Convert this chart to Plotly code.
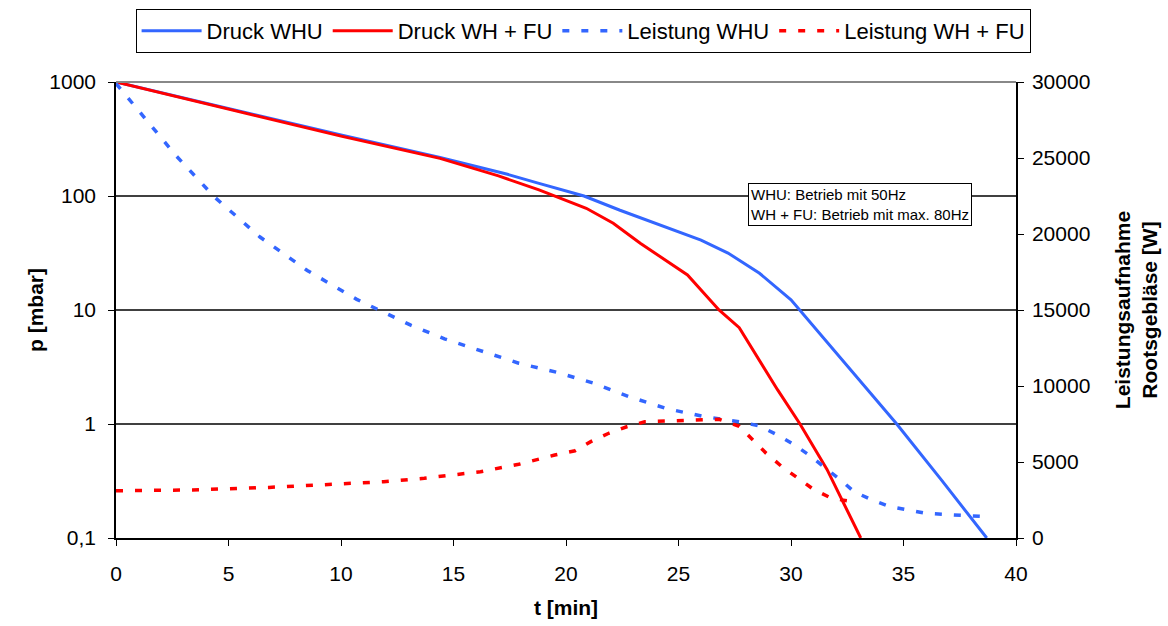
import plotly.graph_objects as go

# ---- data ----
t_druck_whu = [0, 5, 10, 14.4, 17.4, 18.8, 20.8, 22.4, 24.8, 26.0, 27.2, 28.6, 30.0, 32.0, 34.7, 36.7, 38.7]
p_druck_whu = [1000, 586, 343, 218, 155, 129, 100, 75, 50, 41, 31.6, 21, 12.3, 4.2, 1.0, 0.32, 0.1]

t_druck_fu = [0, 5, 10, 14.4, 17.0, 18.8, 20.9, 22.1, 23.3, 25.4, 26.8, 27.7, 28.5, 29.4, 30.4, 31.6, 33.1]
p_druck_fu = [1000, 575, 335, 214, 150, 113, 78, 57.6, 38.5, 20.3, 10, 7.0, 3.9, 2.0, 1.0, 0.40, 0.1]

t_leist_whu = [0, 2.7, 4.4, 6.4, 8.5, 10.7, 13.1, 14.6, 17.9, 19.6, 21.2, 22.8, 24.5, 26.1, 27.7,
               28.6, 29.4, 30.1, 30.8, 31.5, 32.2, 32.8, 33.6, 34.4, 36.0, 38.7]
w_leist_whu = [29900, 25100, 22400, 19800, 17600, 15700, 14000, 13100, 11500, 10900, 10200, 9300, 8500, 8000, 7650,
               7370, 6780, 6180, 5460, 4650, 3820, 3050, 2500, 2060, 1620, 1400]

t_leist_fu = [0, 3.4, 6.8, 9.4, 11.9, 13.7, 16.2, 17.9, 19.5, 20.4, 21.1, 21.9, 22.7, 23.5, 25.2, 26.8,
              27.7, 28.3, 28.9, 29.6, 30.3, 31.0, 31.8, 32.6]
w_leist_fu = [3110, 3160, 3330, 3500, 3700, 3930, 4360, 4850, 5460, 5740, 6340, 6890, 7320, 7650, 7720, 7810,
              7350, 6450, 5570, 4690, 3930, 3200, 2610, 2430]

p_tickvals = [0.1, 1, 10, 100, 1000]
p_ticktext = ["0,1", "1", "10", "100", "1000"]

BLUE = "#3366FF"
RED = "#FF0000"
FONT = "Arial, Liberation Sans, sans-serif"
DASH = "7px,12px"

fig = go.Figure()
fig.add_trace(go.Scatter(x=t_druck_whu, y=p_druck_whu, name="Druck WHU", mode="lines",
                         line=dict(color=BLUE, width=3)))
fig.add_trace(go.Scatter(x=t_druck_fu, y=p_druck_fu, name="Druck WH + FU", mode="lines",
                         line=dict(color=RED, width=3)))
fig.add_trace(go.Scatter(x=t_leist_whu, y=w_leist_whu, name="Leistung WHU", mode="lines", yaxis="y2",
                         line=dict(color=BLUE, width=3.5, dash=DASH)))
fig.add_trace(go.Scatter(x=t_leist_fu, y=w_leist_fu, name="Leistung WH + FU", mode="lines", yaxis="y2",
                         line=dict(color=RED, width=3.5, dash=DASH)))

fig.update_layout(
    width=1168, height=626,
    margin=dict(l=116, r=152, t=82, b=88, autoexpand=False),
    plot_bgcolor="white", paper_bgcolor="white",
    font=dict(family=FONT, size=21, color="black"),
    showlegend=True,
    legend=dict(orientation="h", x=0.519, xanchor="center", y=1.16, yanchor="top",
                bordercolor="black", borderwidth=1, font=dict(size=22), itemwidth=60,
                bgcolor="white", tracegroupgap=0),
    xaxis=dict(range=[0, 40], tick0=0, dtick=5, ticks="outside", ticklen=6, tickcolor="black",
               showline=True, linecolor="black", linewidth=1.5, showgrid=False, zeroline=False,
               tickfont=dict(size=21), ticklabelstandoff=10, automargin=False,
               title=dict(text="<b>t [min]</b>", font=dict(size=21), standoff=16)),
    yaxis=dict(type="log", range=[-1, 3], tickvals=p_tickvals, ticktext=p_ticktext,
               ticks="outside", ticklen=6, tickcolor="black",
               showline=True, linecolor="black", linewidth=1.5,
               showgrid=True, gridcolor="#404040", gridwidth=1.5, zeroline=False,
               tickfont=dict(size=21), ticklabelstandoff=8, automargin=False,
               title=dict(text="<b>p [mbar]</b>", font=dict(size=21), standoff=0)),
    yaxis2=dict(overlaying="y", side="right", range=[0, 30000], tick0=0, dtick=5000, tickformat="d",
                ticks="outside", ticklen=6, tickcolor="black",
                showline=True, linecolor="black", linewidth=1.5, showgrid=False, zeroline=False,
                tickfont=dict(size=21), ticklabelstandoff=4, automargin=False,
                title=dict(text="<b>Leistungsaufnahme<br>Rootsgebläse [W]</b>", font=dict(size=21), standoff=26)),
    annotations=[dict(text="WHU: Betrieb mit 50Hz<br>WH + FU: Betrieb mit max. 80Hz",
                      xref="paper", yref="paper", x=0.827, y=0.732, xanchor="center", yanchor="middle",
                      align="left", showarrow=False, font=dict(size=15),
                      bordercolor="black", borderwidth=1, borderpad=2, bgcolor="white")],
    shapes=[dict(type="line", xref="paper", yref="paper", x0=0, x1=1, y0=1, y1=1,
                 line=dict(color="#888888", width=2), layer="above")],
)

fig.write_html("out.html")
